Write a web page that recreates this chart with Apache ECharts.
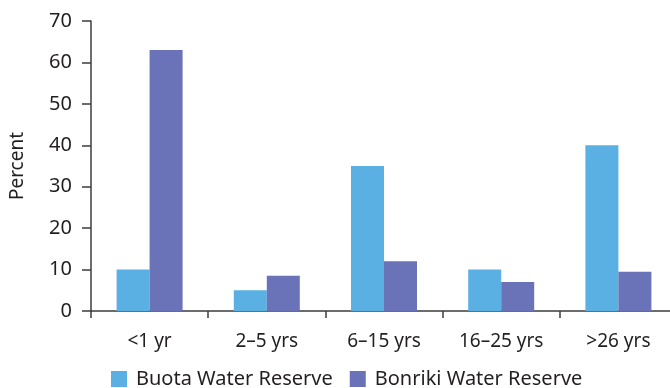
<!DOCTYPE html>
<html>
<head>
<meta charset="utf-8">
<script src="https://cdn.jsdelivr.net/npm/echarts@6/dist/echarts.min.js"></script>
<style>
  html, body { margin: 0; padding: 0; background: #fff; overflow: hidden; }
  /* the plot runs slightly past the right edge of the page */
  #chart { width: 677px; height: 388px; }
</style>
</head>
<body>
<div id="chart"></div>
<script>
// Age groups and the share of each reserve's respondents per group
const categories = ['<1 yr', '2–5 yrs', '6–15 yrs', '16–25 yrs', '>26 yrs'];
const buota = [10, 5, 35, 10, 40];
const bonriki = [63, 8.5, 12, 7, 9.5];
const yTicks = { min: 0, max: 70, interval: 10 };

const FONT = '"Noto Sans", "Open Sans", sans-serif';
const TEXT = '#231f20';
const AXIS = '#3c3c3c';

const chart = echarts.init(document.getElementById('chart'), null, { renderer: 'canvas' });
chart.setOption({
  animation: false,
  textStyle: { fontFamily: FONT, color: TEXT },
  grid: { left: 91, top: 21, right: 0, height: 290, containLabel: false },
  legend: {
    top: 364,
    left: 106,
    itemWidth: 16,
    itemHeight: 16,
    itemGap: 17,
    icon: 'rect',
    textStyle: { fontFamily: FONT, fontSize: 20, color: TEXT, padding: [0, 0, 0, 4] },
    data: ['Buota Water Reserve', 'Bonriki Water Reserve']
  },
  xAxis: {
    type: 'category',
    data: categories,
    axisLine: { lineStyle: { color: AXIS, width: 1.5 } },
    axisTick: { show: true, length: 7, lineStyle: { color: AXIS, width: 1.5 } },
    axisLabel: { fontFamily: FONT, fontSize: 19, color: TEXT, margin: 21 }
  },
  yAxis: {
    type: 'value',
    min: yTicks.min,
    max: yTicks.max,
    interval: yTicks.interval,
    name: 'Percent',
    nameLocation: 'middle',
    nameGap: 64,
    nameTextStyle: { fontFamily: FONT, fontSize: 19, color: TEXT },
    axisLine: { show: true, lineStyle: { color: AXIS, width: 1.5 } },
    axisTick: { show: true, length: 9, lineStyle: { color: AXIS, width: 1.5 } },
    axisLabel: { fontFamily: FONT, fontSize: 20, color: TEXT, margin: 19 },
    splitLine: { show: false }
  },
  series: [
    {
      name: 'Buota Water Reserve',
      type: 'bar',
      data: buota,
      barWidth: 33,
      barGap: '0%',
      itemStyle: { color: '#5aafe3' }
    },
    {
      name: 'Bonriki Water Reserve',
      type: 'bar',
      data: bonriki,
      barWidth: 33,
      barGap: '0%',
      itemStyle: { color: '#6a72b8' }
    }
  ]
});
</script>
</body>
</html>
